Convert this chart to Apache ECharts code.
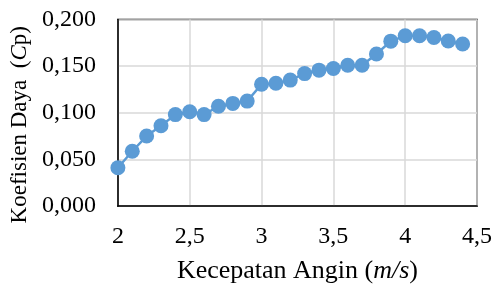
<!DOCTYPE html>
<html>
<head>
<meta charset="utf-8">
<script src="https://cdn.jsdelivr.net/npm/echarts@6/dist/echarts.min.js"></script>
<style>
  html, body { margin: 0; padding: 0; background: #fff; }
  #chart { width: 495px; height: 289px; }
</style>
</head>
<body>
<div id="chart"></div>
<script>
// kecepatan angin (m/s)
var windSpeed = [2.0, 2.1, 2.2, 2.3, 2.4, 2.5, 2.6, 2.7, 2.8, 2.9, 3.0, 3.1, 3.2,
  3.3, 3.4, 3.5, 3.6, 3.7, 3.8, 3.9, 4.0, 4.1, 4.2, 4.3, 4.4]
// koefisien daya Cp
var cpValues = [0.041, 0.0587, 0.075, 0.086, 0.098, 0.101, 0.098, 0.107, 0.110, 0.1125,
  0.1305, 0.1316, 0.135, 0.142, 0.1457, 0.1475, 0.151, 0.151, 0.163, 0.1768,
  0.1825, 0.1825, 0.1807, 0.177, 0.1737]
var xTickLabels = ['2', '2,5', '3', '3,5', '4', '4,5']
var yTickLabels = ['0,000', '0,050', '0,100', '0,150', '0,200']

var font = '"Liberation Serif", "Times New Roman", serif'
var chart = echarts.init(document.getElementById('chart'))

chart.setOption({
  animation: false,
  grid: {
    left: 117.5,
    right: 17,
    top: 19.5,
    bottom: 81,
    show: true,
    borderColor: '#000',
    borderWidth: 1.5
  },
  xAxis: {
    type: 'value',
    min: 2,
    max: 4.5,
    interval: 0.5,
    name: '{n|Kecepatan Angin (}{i|m/s}{n|)}',
    nameLocation: 'middle',
    nameGap: 52,
    nameTextStyle: {
      rich: {
        n: { fontFamily: font, fontSize: 26, color: '#000' },
        i: { fontFamily: font, fontSize: 26, color: '#000', fontStyle: 'italic' }
      }
    },
    axisLine: { show: true, lineStyle: { color: '#000', width: 1.5 } },
    axisTick: { show: false },
    axisLabel: {
      margin: 19,
      fontFamily: font,
      fontSize: 24,
      color: '#000',
      formatter: function (v) {
        return xTickLabels[Math.round((v - 2) / 0.5)]
      }
    },
    splitLine: { show: true, lineStyle: { color: '#d9d9d9', width: 1.5 } }
  },
  yAxis: {
    type: 'value',
    min: 0,
    max: 0.2,
    interval: 0.05,
    name: '{n|Koefisien Daya  (}{i|C}{n|p)}{s|}',
    nameLocation: 'middle',
    nameGap: 82,
    nameTextStyle: {
      rich: {
        n: { fontFamily: font, fontSize: 23, color: '#000' },
        i: { fontFamily: font, fontSize: 23, color: '#000', fontStyle: 'italic' },
        s: { width: 24 }
      }
    },
    axisLine: { show: true, lineStyle: { color: '#000', width: 1.5 } },
    axisTick: { show: false },
    axisLabel: {
      margin: 22,
      fontFamily: font,
      fontSize: 24,
      color: '#000',
      formatter: function (v) {
        return yTickLabels[Math.round(v / 0.05)]
      }
    },
    splitLine: { show: true, lineStyle: { color: '#d9d9d9', width: 1.5 } }
  },
  series: [
    {
      type: 'line',
      data: windSpeed.map(function (x, i) { return [x, cpValues[i]] }),
      symbol: 'circle',
      symbolSize: 15,
      itemStyle: { color: '#5b9bd5' },
      lineStyle: { color: '#5b9bd5', width: 2.5 }
    }
  ]
})
</script>
</body>
</html>
